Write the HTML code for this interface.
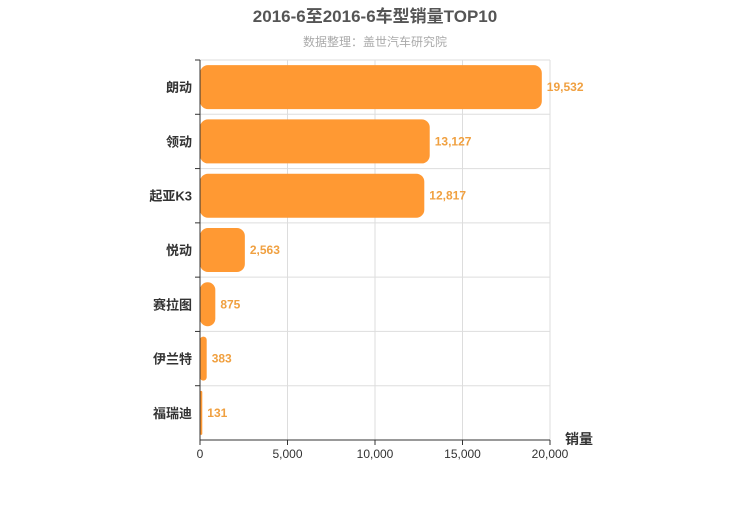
<!DOCTYPE html>
<html><head><meta charset="utf-8">
<style>
body{margin:0;background:#fff;font-family:"Liberation Sans","Noto Sans CJK SC",sans-serif;}
svg text{font-family:"Liberation Sans","Noto Sans CJK SC",sans-serif;}
</style></head>
<body>
<svg id="chart" width="750" height="500" xmlns="http://www.w3.org/2000/svg">
<text x="375" y="22" text-anchor="middle" font-size="17" font-weight="bold" fill="#555">2016-6至2016-6车型销量TOP10</text>
<text x="375" y="46" text-anchor="middle" font-size="12" fill="#aaa">数据整理：盖世汽车研究院</text>
<g id="grid"></g>
<g id="bars"></g>
<g id="axes"></g>
<text x="565" y="444" font-size="14" font-weight="bold" fill="#333">销量</text>
</svg>
<script>
const categories=["朗动","领动","起亚K3","悦动","赛拉图","伊兰特","福瑞迪"];
const values=[19532,13127,12817,2563,875,383,131];
const ticks=[0,5000,10000,15000,20000];
const tickLabels=["0","5,000","10,000","15,000","20,000"];
const X0=200,X1=550,Y0=60,Y1=440,MAX=20000;
const xs=v=>X0+(v/MAX)*(X1-X0);
const rowH=(Y1-Y0)/categories.length;
const ys=i=>Y0+i*rowH;
const NS="http://www.w3.org/2000/svg";
function mk(t,a,p){const e=document.createElementNS(NS,t);for(const k in a)e.setAttribute(k,a[k]);p.appendChild(e);return e;}
const grid=document.getElementById('grid'),bars=document.getElementById('bars'),axes=document.getElementById('axes');
ticks.forEach((t,i)=>{
  const l=mk('line',{x1:xs(t),x2:xs(t),y1:Y0,y2:Y1,stroke:'#ddd'},grid);
  
  
  const tk=mk('line',{x1:xs(t),x2:xs(t),y1:Y1,y2:Y1+5,stroke:'#333'},axes);
  
  
  const tx=mk('text',{x:xs(t),y:Y1+18,'text-anchor':'middle','font-size':12,fill:'#333'},axes);
  tx.textContent=tickLabels[i];
  
  
});
for(let i=0;i<=categories.length;i++){
  const l=mk('line',{x1:X0,x2:X1,y1:ys(i),y2:ys(i),stroke:'#ddd'},grid);
  
  
}
categories.forEach((c,i)=>{
  const bh=44,by=ys(i)+(rowH-bh)/2,w=Math.max(xs(values[i])-X0,2);
  const r=mk('rect',{x:X0,y:by,width:w,height:bh,rx:Math.min(8,w/2),fill:'#ff9933'},bars);
  
  
  const v=mk('text',{x:X0+w+5,y:by+bh/2+4,'font-size':12,'font-weight':'bold',fill:'#f0a040'},bars);
  v.textContent=values[i].toLocaleString('en-US');
  
  
  const tk=mk('line',{x1:X0-5,x2:X0,y1:ys(i),y2:ys(i),stroke:'#333'},axes);
  
  
  const t=mk('text',{x:X0-8,y:ys(i)+rowH/2+5,'text-anchor':'end','font-size':13,'font-weight':'bold',fill:'#333'},axes);
  t.textContent=c;
  
  
});
const ya=mk('line',{x1:X0,x2:X0,y1:Y0,y2:Y1,stroke:'#333'},axes);


const xa=mk('line',{x1:X0,x2:X1,y1:Y1,y2:Y1,stroke:'#333'},axes);


</script>
</body></html>
